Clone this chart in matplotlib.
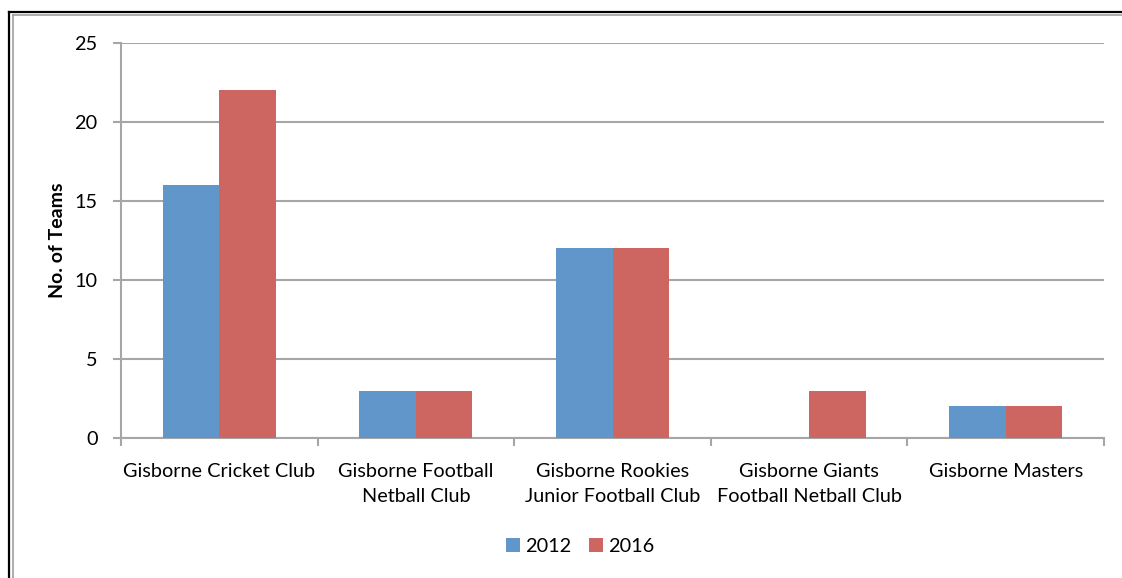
import matplotlib
matplotlib.use("Agg")
import matplotlib.pyplot as plt
import numpy as np
from matplotlib.lines import Line2D
from matplotlib.patches import Patch

categories = ["Gisborne Cricket Club", "Gisborne Football\nNetball Club",
              "Gisborne Rookies\nJunior Football Club", "Gisborne Giants\nFootball Netball Club",
              "Gisborne Masters"]
series_names = ["2012", "2016"]
values_2012 = [16, 3, 12, 0, 2]
values_2016 = [22, 3, 12, 3, 2]
y_ticks = [0, 5, 10, 15, 20, 25]

plt.rcParams['font.family'] = ['Lato', 'DejaVu Sans']

W, H = 1122, 578
fig = plt.figure(figsize=(W / 100, H / 100), dpi=100)
ax = fig.add_axes([121 / W, 1 - 438 / H, (1104 - 121) / W, (438 - 43) / H])

blue = "#6096c9"
red = "#cd6660"
grid_c = "#a6a6a6"
fs = 14.3

x = np.arange(len(categories))
bw = 0.2875
ax.bar(x - bw / 2, values_2012, bw, color=blue, edgecolor="none", zorder=3, label=series_names[0])
ax.bar(x + bw / 2, values_2016, bw, color=red, edgecolor="none", zorder=3, label=series_names[1])

ax.set_xlim(-0.5, len(categories) - 0.5)
ax.set_ylim(0, 25)
ax.set_yticks(y_ticks)
ax.yaxis.grid(True, color=grid_c, linewidth=1.5, zorder=0)
ax.set_axisbelow(True)

ax.set_xticks(x)
ax.set_xticklabels(categories, fontsize=fs, linespacing=1.55)
ax.set_xticks(np.arange(-0.5, len(categories)), minor=True)
ax.tick_params(axis="x", which="major", length=0, pad=18)
ax.tick_params(axis="x", which="minor", length=6, width=1.5, color=grid_c, direction="out")
ax.tick_params(axis="y", length=6, width=1.5, color=grid_c, labelsize=fs, pad=11)

for s in ["top", "right"]:
    ax.spines[s].set_visible(False)
for s in ["left", "bottom"]:
    ax.spines[s].set_color(grid_c)
    ax.spines[s].set_linewidth(1.5)

ax.set_ylabel("No. of Teams", fontsize=14, fontweight="bold", labelpad=6)

handles = [Patch(facecolor=blue, edgecolor="none"), Patch(facecolor=red, edgecolor="none")]
fig.legend(handles, series_names, loc="center", bbox_to_anchor=(580 / W, 1 - 546 / H),
           ncol=2, frameon=False, fontsize=fs, handlelength=0.7, handleheight=0.7,
           handletextpad=0.25, columnspacing=0.9)

# outer frame (top and left double line)
fig.add_artist(Line2D([9 / W, 1], [1 - 11.5 / H, 1 - 11.5 / H], color="black", linewidth=1.6, transform=fig.transFigure))
fig.add_artist(Line2D([12.5 / W, 1], [1 - 14.5 / H, 1 - 14.5 / H], color="#a0a0a0", linewidth=1.2, transform=fig.transFigure))
fig.add_artist(Line2D([9 / W, 9 / W], [0, 1 - 11.5 / H], color="black", linewidth=1.6, transform=fig.transFigure))
fig.add_artist(Line2D([12.5 / W, 12.5 / W], [0, 1 - 14.5 / H], color="#a0a0a0", linewidth=1.2, transform=fig.transFigure))

fig.savefig("out.png", dpi=100)
